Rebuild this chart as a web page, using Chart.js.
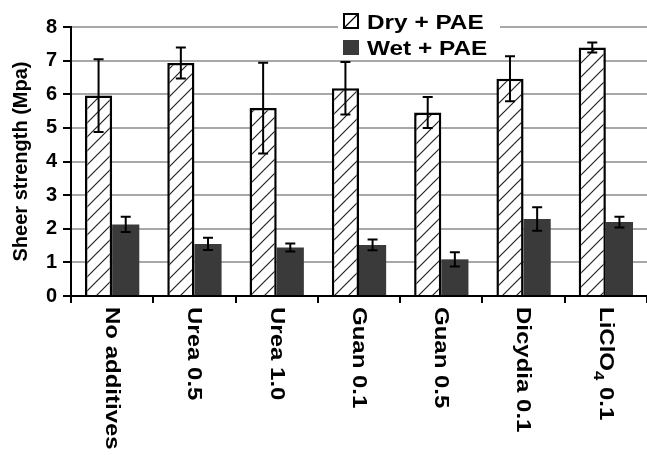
<!DOCTYPE html>
<html><head><meta charset="utf-8">
<script src="https://cdn.jsdelivr.net/npm/chart.js@4/dist/chart.umd.min.js"></script>
<style>html,body{margin:0;padding:0;background:#fff;overflow:hidden}</style>
</head><body>
<canvas id="c" width="647" height="455"></canvas>
<script>
const categories = ['No additives','Urea 0.5','Urea 1.0','Guan 0.1','Guan 0.5','Dicydia 0.1','LiClO\u2084 0.1'];
const seriesNames = ['Dry + PAE','Wet + PAE'];
const dryValues = [5.96, 6.93, 5.59, 6.18, 5.46, 6.46, 7.39];
const dryErrors = [1.08, 0.46, 1.35, 0.78, 0.46, 0.67, 0.15];
const wetValues = [2.13, 1.55, 1.44, 1.52, 1.09, 2.29, 2.20];
const wetErrors = [0.23, 0.18, 0.12, 0.16, 0.21, 0.35, 0.16];
const yTickValues = [0,1,2,3,4,5,6,7,8];
const yTitle = 'Sheer strength (Mpa)';

const FONT = "'Liberation Sans', Arial, sans-serif";
const WET = '#3a3a3a';
const STRETCH = 1.2;
const canvas = document.getElementById('c');
const ctx = canvas.getContext('2d');

function makeHatch(){
  const t = document.createElement('canvas');
  t.width = t.height = 14;
  const g = t.getContext('2d');
  g.fillStyle = '#fff'; g.fillRect(0,0,14,14);
  g.strokeStyle = '#222'; g.lineWidth = 1.2;
  g.beginPath();
  g.moveTo(0,14); g.lineTo(14,0);
  g.moveTo(-7,7); g.lineTo(7,-7);
  g.moveTo(7,21); g.lineTo(21,7);
  g.stroke();
  return ctx.createPattern(t,'repeat');
}
const hatch = makeHatch();

const errorBars = {
  id:'errorBars',
  afterDatasetsDraw(chart){
    const c = chart.ctx, ys = chart.scales.y;
    chart.data.datasets.forEach((ds,i)=>{
      const meta = chart.getDatasetMeta(i);
      meta.data.forEach((el,j)=>{
        const v = ds.data[j], e = ds.errors[j];
        const yt = ys.getPixelForValue(v+e), yb = ys.getPixelForValue(v-e);
        c.save();
        c.strokeStyle = '#000'; c.lineWidth = 2;
        c.beginPath();
        c.moveTo(el.x, yt); c.lineTo(el.x, yb);
        c.moveTo(el.x-5, yt); c.lineTo(el.x+5, yt);
        c.moveTo(el.x-5, yb); c.lineTo(el.x+5, yb);
        c.stroke();
        c.restore();
      });
    });
  }
};

const xLabels = {
  id:'xLabels',
  afterDraw(chart){
    const c = chart.ctx, xs = chart.scales.x;
    chart.data.labels.forEach((lab,i)=>{
      const x = xs.getPixelForValue(i) + 1;
      c.save();
      c.translate(x, 307);
      c.rotate(Math.PI/2);
      c.scale(STRETCH, 1);
      c.fillStyle = '#000';
      c.textAlign = 'left';
      c.textBaseline = 'alphabetic';
      const parts = lab.split('\u2084');
      let px = 0;
      const base = 7.2;
      c.font = 'bold 20px ' + FONT;
      c.fillText(parts[0], px, base);
      px += c.measureText(parts[0]).width;
      if (parts.length > 1) {
        c.font = 'bold 14px ' + FONT;
        c.fillText('4', px, base + 6);
        px += c.measureText('4').width;
        c.font = 'bold 20px ' + FONT;
        c.fillText(parts[1], px, base);
      }
      c.restore();
    });
  }
};

const legendBox = {
  id:'legendBox',
  afterDraw(chart){
    const c = chart.ctx;
    c.save();
    c.fillStyle = '#fff';
    c.fillRect(338, 6, 162, 52);
    c.fillStyle = '#fff';
    c.fillRect(344, 14, 14, 14);
    c.strokeStyle = '#000'; c.lineWidth = 2;
    c.strokeRect(344, 14, 14, 14);
    c.lineWidth = 1.2;
    c.beginPath(); c.moveTo(344, 28); c.lineTo(358, 14); c.stroke();
    c.fillStyle = WET;
    c.fillRect(343, 40, 16, 15);
    c.fillStyle = '#000';
    c.font = 'bold 21px ' + FONT;
    c.textAlign = 'left'; c.textBaseline = 'alphabetic';
    c.save(); c.translate(367, 29); c.scale(1.16, 1);
    c.fillText(chart.data.datasets[0].label, 0, 0); c.restore();
    c.save(); c.translate(367, 55); c.scale(1.16, 1);
    c.fillText(chart.data.datasets[1].label, 0, 0); c.restore();
    c.restore();
  }
};

new Chart(ctx, {
  type:'bar',
  data:{
    labels:categories,
    datasets:[
      {label:seriesNames[0], data:dryValues, errors:dryErrors, backgroundColor:hatch, borderColor:'#000', borderWidth:2.5},
      {label:seriesNames[1], data:wetValues, errors:wetErrors, backgroundColor:WET, borderWidth:0}
    ]
  },
  options:{
    responsive:false, animation:false, devicePixelRatio:1,
    categoryPercentage:0.66, barPercentage:1,
    layout:{padding:{left:6, top:27, right:0, bottom:0}},
    plugins:{legend:{display:false}, tooltip:{enabled:false}},
    scales:{
      x:{
        offset:true,
        grid:{display:true, offset:true, drawOnChartArea:false, drawTicks:true, tickLength:7, color:'#000', lineWidth:2},
        border:{display:true, color:'#000', width:2},
        ticks:{display:false},
        afterFit(s){ s.height = 159; }
      },
      y:{
        min:0, max:8,
        afterBuildTicks(s){ s.ticks = yTickValues.map(v=>({value:v})); },
        ticks:{font:{family:FONT, weight:'bold', size:20}, color:'#000', padding:6},
        grid:{color:'#a8a8a8', lineWidth:2, tickColor:'#000', tickLength:8},
        border:{display:true, color:'#000', width:2},
        title:{display:true, text:yTitle, color:'#000', font:{family:FONT, weight:'bold', size:20}, padding:{top:3, bottom:2}},
        afterFit(s){ s.width = 65; }
      }
    }
  },
  plugins:[errorBars, xLabels, legendBox]
});
</script>
</body></html>
